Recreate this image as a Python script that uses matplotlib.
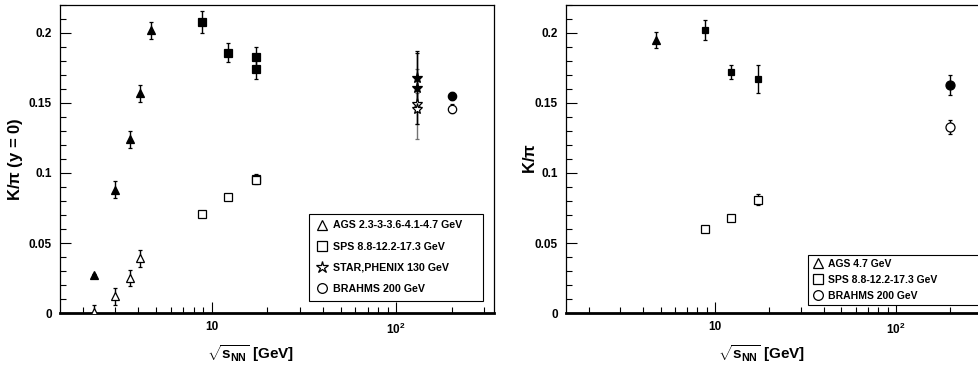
import matplotlib
matplotlib.use("Agg")
import matplotlib.pyplot as plt
from matplotlib.lines import Line2D
from matplotlib.ticker import FixedLocator, LogLocator, MultipleLocator, FuncFormatter, NullFormatter

plt.rcParams['font.family'] = ['Liberation Sans', 'DejaVu Sans']
plt.rcParams['font.weight'] = 'bold'
plt.rcParams['mathtext.fontset'] = 'custom'
plt.rcParams['mathtext.rm'] = 'Liberation Sans:bold'
plt.rcParams['mathtext.bf'] = 'Liberation Sans:bold'
plt.rcParams['mathtext.it'] = 'Liberation Sans:bold'

# ---- left panel: K/pi at midrapidity ----
ags_x = [2.3, 3.0, 3.6, 4.1, 4.7]
ags_kp = [0.027, 0.088, 0.124, 0.157, 0.202]
ags_kp_err = [0.001, 0.006, 0.006, 0.006, 0.006]
ags_km_x = [2.3, 3.0, 3.6, 4.1]
ags_km = [0.001, 0.012, 0.025, 0.039]
ags_km_err = [0.005, 0.006, 0.006, 0.006]

sps_x = [8.8, 12.2, 17.3, 17.3]
sps_kp = [0.208, 0.186, 0.183, 0.174]
sps_kp_err = [0.008, 0.007, 0.007, 0.007]
sps_km = [0.071, 0.083, 0.096, 0.095]
sps_km_err = [0.002, 0.002, 0.003, 0.003]

rhic_x = [130, 130]
rhic_kp = [0.168, 0.161]
rhic_kp_err = [0.018, 0.026]
rhic_km = [0.149, 0.146]
rhic_km_err = [0.025, 0.011]

brahms_x = [200]
brahms_kp = [0.155]
brahms_kp_err = [0.003]
brahms_km = [0.146]
brahms_km_err = [0.003]

# ---- right panel: 4pi K/pi ----
ags4_x = [4.7]
ags4_kp = [0.195]
ags4_kp_err = [0.006]
sps4_x = [8.8, 12.2, 17.3]
sps4_kp = [0.202, 0.172, 0.167]
sps4_kp_err = [0.007, 0.005, 0.010]
sps4_km = [0.060, 0.068, 0.081]
sps4_km_err = [0.002, 0.002, 0.004]
brahms4_x = [200]
brahms4_kp = [0.163]
brahms4_kp_err = [0.007]
brahms4_km = [0.133]
brahms4_km_err = [0.005]

left_labels = ['AGS 2.3-3-3.6-4.1-4.7 GeV', 'SPS 8.8-12.2-17.3 GeV',
               'STAR,PHENIX 130 GeV', 'BRAHMS 200 GeV']
right_labels = ['AGS 4.7 GeV', 'SPS 8.8-12.2-17.3 GeV', 'BRAHMS 200 GeV']

W, H = 979, 369
fig = plt.figure(figsize=(W / 100, H / 100), dpi=100)
ax1 = fig.add_axes([60 / W, 56 / H, 434 / W, 308 / H])
ax2 = fig.add_axes([566 / W, 56 / H, 426 / W, 308 / H])


def pts(ax, x, y, e, marker, filled, ms=6, ecolor='black'):
    ax.errorbar(x, y, yerr=e, fmt=marker, ms=ms, mfc='black' if filled else 'white',
                mec='black', mew=0.9, ecolor=ecolor, elinewidth=1.0, capsize=1.6,
                capthick=0.9, zorder=3)


def style(ax, xmax):
    ax.set_xscale('log')
    ax.set_xlim(1.5, xmax)
    ax.set_ylim(0, 0.22)
    ax.xaxis.set_major_locator(FixedLocator([10, 100]))
    ax.xaxis.set_major_formatter(FuncFormatter(lambda v, p: '10' if v < 50 else r'$10^2$'))
    ax.xaxis.set_minor_locator(LogLocator(base=10, subs=range(2, 10)))
    ax.xaxis.set_minor_formatter(NullFormatter())
    ax.yaxis.set_major_locator(MultipleLocator(0.05))
    ax.yaxis.set_minor_locator(MultipleLocator(0.01))
    ax.yaxis.set_major_formatter(FuncFormatter(lambda v, p: '%g' % round(v, 3)))
    ax.tick_params(which='both', direction='in', top=False, right=False,
                   labelsize=8.5, width=0.8)
    ax.tick_params(which='major', length=8, pad=6)
    ax.tick_params(which='minor', length=4)
    for lab in ax.get_xticklabels() + ax.get_yticklabels():
        lab.set_fontweight('bold')
    for s in ax.spines.values():
        s.set_linewidth(0.9)
    ax.spines['bottom'].set_linewidth(2.0)
    ax.set_xlabel(r'$\sqrt{s_{NN}}$ [GeV]', fontsize=11, fontweight='bold')


style(ax1, 340)
pts(ax1, ags_x, ags_kp, ags_kp_err, '^', True)
pts(ax1, ags_km_x, ags_km, ags_km_err, '^', False)
pts(ax1, sps_x, sps_kp, sps_kp_err, 's', True, ms=6)
pts(ax1, sps_x, sps_km, sps_km_err, 's', False, ms=6)
pts(ax1, rhic_x, rhic_km, rhic_km_err, '*', False, ms=8, ecolor='0.45')
pts(ax1, rhic_x, rhic_kp, rhic_kp_err, '*', True, ms=8)
pts(ax1, brahms_x, brahms_kp, brahms_kp_err, 'o', True)
pts(ax1, brahms_x, brahms_km, brahms_km_err, 'o', False)
ax1.set_ylabel(r'K/$\pi$ (y = 0)', fontsize=12, fontweight='bold')
ax1.yaxis.set_label_coords(-0.08, 0.5)
ax1.xaxis.set_label_coords(0.44, -0.1)

style(ax2, 340)
pts(ax2, ags4_x, ags4_kp, ags4_kp_err, '^', True, ms=5.5)
pts(ax2, sps4_x, sps4_kp, sps4_kp_err, 's', True, ms=4.5)
pts(ax2, sps4_x, sps4_km, sps4_km_err, 's', False, ms=5.5)
pts(ax2, brahms4_x, brahms4_kp, brahms4_kp_err, 'o', True, ms=6.5)
pts(ax2, brahms4_x, brahms4_km, brahms4_km_err, 'o', False, ms=6.5)
ax2.set_ylabel(r'K/$\pi$', fontsize=12, fontweight='bold')
ax2.yaxis.set_label_coords(-0.066, 0.5)
ax2.xaxis.set_label_coords(0.46, -0.1)


def handles(markers):
    return [Line2D([], [], ls='none', marker=m, ms=7 if m != '*' else 9, mfc='white',
                   mec='black', mew=0.9) for m in markers]


leg1 = ax1.legend(handles(['^', 's', '*', 'o']), left_labels, loc='lower left',
                  bbox_to_anchor=(0.562, 0.023, 0.424, 0.302), mode='expand',
                  prop={'size': 7.7, 'weight': 'bold'}, frameon=True, fancybox=False,
                  edgecolor='black', framealpha=1, labelspacing=1.05,
                  handletextpad=0.4, handlelength=1.2, borderpad=0.6)
leg1.get_frame().set_linewidth(0.8)

leg2 = ax2.legend(handles(['^', 's', 'o']), right_labels, loc='lower left',
                  bbox_to_anchor=(0.556, 0.01, 0.5, 0.185), mode='expand',
                  prop={'size': 7.5, 'weight': 'bold'}, frameon=True, fancybox=False,
                  edgecolor='black', framealpha=1, labelspacing=0.6,
                  handletextpad=0.4, handlelength=1.2, borderpad=0.35)
leg2.get_frame().set_linewidth(0.8)

fig.savefig('out.png', dpi=100)
